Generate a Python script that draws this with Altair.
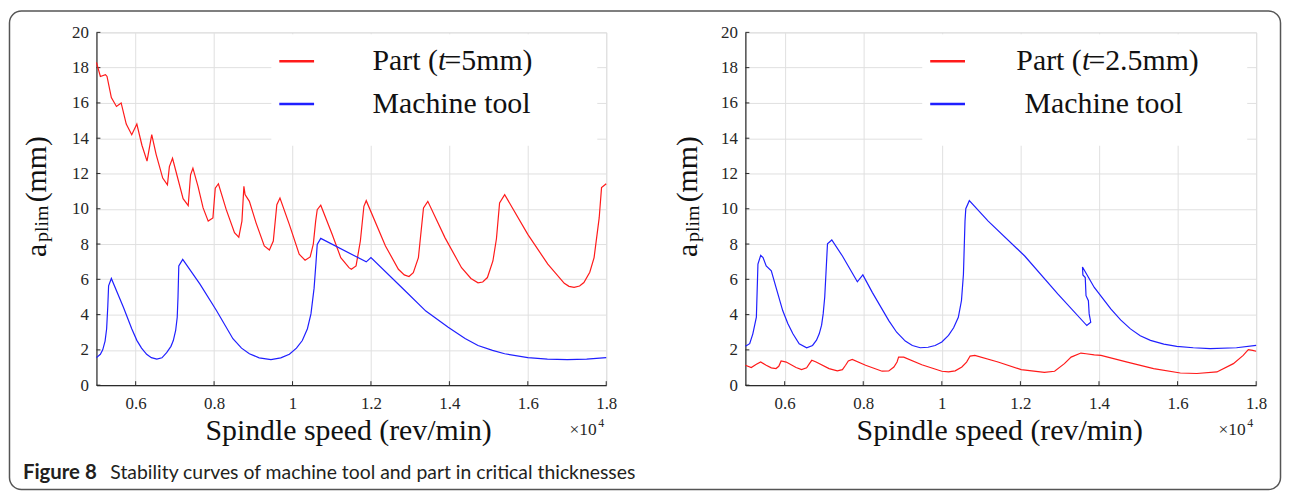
import altair as alt
import pandas as pd

# ---------------- data (spindle speed in x10^4 rev/min, a_plim in mm) ----------------
L_PART_X = [0.500, 0.510, 0.523, 0.527, 0.538, 0.551, 0.563, 0.576, 0.590, 0.603, 0.616, 0.629,
            0.641, 0.652, 0.669, 0.681, 0.686, 0.694, 0.721, 0.734, 0.740, 0.746, 0.759, 0.772,
            0.785, 0.797, 0.803, 0.811, 0.831, 0.852, 0.863, 0.871, 0.876, 0.879, 0.890, 0.907,
            0.928, 0.941, 0.951, 0.960, 0.968, 0.992, 1.017, 1.032, 1.045, 1.053, 1.059, 1.063,
            1.072, 1.101, 1.123, 1.144, 1.150, 1.162, 1.173, 1.182, 1.188, 1.237, 1.270, 1.285,
            1.297, 1.308, 1.321, 1.334, 1.345, 1.389, 1.431, 1.455, 1.473, 1.485, 1.497, 1.511,
            1.520, 1.528, 1.541, 1.600, 1.651, 1.693, 1.705, 1.718, 1.732, 1.743, 1.758, 1.769,
            1.782, 1.788, 1.800]
L_PART_Y = [18.3, 17.5, 17.6, 17.5, 16.3, 15.8, 16.0, 14.8, 14.2, 14.8, 13.6, 12.7,
            14.2, 13.1, 11.74, 11.36, 12.39, 12.86, 10.57, 10.18, 11.92, 12.3, 11.27, 10.05,
            9.3, 9.48, 11.17, 11.42, 9.95, 8.64, 8.39, 9.3, 11.27, 10.8, 10.42, 9.2,
            7.89, 7.66, 8.17, 10.23, 10.61, 9.1, 7.42, 7.08, 7.27, 8.0, 9.3, 9.95,
            10.2, 8.55, 7.23, 6.66, 6.57, 6.76, 8.17, 10.14, 10.46, 7.89, 6.57, 6.25,
            6.16, 6.38, 7.23, 10.05, 10.42, 8.35, 6.66, 6.05, 5.8, 5.85, 6.1, 7.04,
            8.3, 10.33, 10.8, 8.55, 6.86, 5.77, 5.6, 5.54, 5.62, 5.82, 6.4, 7.23,
            9.48, 11.2, 11.42]

L_TOOL_X = [0.500, 0.510, 0.516, 0.522, 0.526, 0.529, 0.531, 0.538, 0.569, 0.590, 0.603, 0.615,
            0.628, 0.640, 0.654, 0.667, 0.679, 0.690, 0.696, 0.702, 0.706, 0.708, 0.710, 0.720,
            0.764, 0.806, 0.848, 0.870, 0.890, 0.915, 0.945, 0.970, 0.992, 1.010, 1.025, 1.038,
            1.047, 1.055, 1.060, 1.063, 1.072, 1.188, 1.200, 1.287, 1.340, 1.397, 1.440, 1.473,
            1.510, 1.541, 1.600, 1.650, 1.701, 1.750, 1.800]
L_TOOL_Y = [1.56, 1.75, 2.0, 2.5, 3.2, 4.5, 5.63, 6.05, 4.4, 3.2, 2.54, 2.1,
            1.75, 1.56, 1.48, 1.55, 1.84, 2.2, 2.53, 3.1, 3.85, 5.0, 6.76, 7.13,
            5.73, 4.23, 2.63, 2.1, 1.78, 1.55, 1.45, 1.55, 1.75, 2.1, 2.53, 3.2,
            4.04, 5.5, 7.0, 7.98, 8.32, 6.99, 7.23, 5.35, 4.2, 3.28, 2.65, 2.25,
            1.97, 1.78, 1.56, 1.48, 1.45, 1.48, 1.56]

R_PART_X = [0.500, 0.515, 0.528, 0.539, 0.553, 0.566, 0.578, 0.585, 0.591, 0.604, 0.629, 0.643,
            0.656, 0.663, 0.669, 0.680, 0.713, 0.734, 0.747, 0.755, 0.762, 0.772, 0.806, 0.848,
            0.865, 0.878, 0.886, 0.890, 0.903, 0.949, 1.000, 1.017, 1.034, 1.051, 1.063, 1.072,
            1.084, 1.143, 1.202, 1.261, 1.287, 1.312, 1.329, 1.354, 1.367, 1.388, 1.405, 1.472,
            1.539, 1.607, 1.649, 1.700, 1.742, 1.767, 1.780, 1.791, 1.800]
R_PART_Y = [1.13, 1.0, 1.18, 1.31, 1.13, 0.98, 0.94, 1.07, 1.37, 1.31, 1.0, 0.88,
            0.98, 1.22, 1.41, 1.31, 0.94, 0.81, 0.88, 1.13, 1.37, 1.46, 1.13, 0.79,
            0.81, 1.03, 1.31, 1.59, 1.59, 1.16, 0.79, 0.75, 0.81, 1.03, 1.31, 1.65,
            1.69, 1.31, 0.88, 0.72, 0.79, 1.22, 1.59, 1.82, 1.78, 1.72, 1.69, 1.31,
            0.94, 0.69, 0.66, 0.75, 1.22, 1.69, 2.01, 1.97, 1.92]

R_TOOL_X = [0.500, 0.511, 0.519, 0.528, 0.532, 0.539, 0.545, 0.553, 0.566, 0.578, 0.595, 0.608,
            0.621, 0.637, 0.656, 0.671, 0.681, 0.688, 0.694, 0.698, 0.702, 0.705, 0.709, 0.720,
            0.747, 0.785, 0.799, 0.823, 0.865, 0.885, 0.907, 0.925, 0.945, 0.965, 0.983, 1.000,
            1.017, 1.030, 1.042, 1.050, 1.055, 1.059, 1.061, 1.070, 1.118, 1.211, 1.295, 1.369,
            1.379, 1.375, 1.373, 1.367, 1.365, 1.359, 1.358, 1.388, 1.430, 1.455, 1.480, 1.505,
            1.531, 1.565, 1.598, 1.640, 1.683, 1.750, 1.800]
R_TOOL_Y = [2.2, 2.35, 2.91, 3.85, 6.86, 7.36, 7.23, 6.76, 6.48, 5.54, 4.23, 3.5,
            2.91, 2.35, 2.12, 2.25, 2.55, 2.91, 3.4, 4.04, 5.0, 6.29, 8.02, 8.23,
            7.32, 5.86, 6.25, 5.26, 3.66, 3.0, 2.5, 2.25, 2.12, 2.15, 2.25, 2.45,
            2.82, 3.25, 3.85, 4.8, 6.29, 9.3, 10.0, 10.46, 9.3, 7.32, 5.17, 3.38,
            3.57, 4.04, 4.79, 5.07, 6.1, 6.25, 6.7, 5.54, 4.32, 3.7, 3.19, 2.8,
            2.54, 2.33, 2.2, 2.12, 2.07, 2.12, 2.25]

X_TICKS = [0.6, 0.8, 1.0, 1.2, 1.4, 1.6, 1.8]
Y_TICKS = [0, 2, 4, 6, 8, 10, 12, 14, 16, 18, 20]
SERIES = ["Part", "Machine tool"]
COLORS = ["#ff1a1a", "#1f1fff"]

SERIF = "Liberation Serif"
SANS = "Lato"
H = 355


def one():
    return pd.DataFrame({"k": [0]})


def txt(text, x, y, size, angle=0, align="left", font=SERIF, weight="normal",
        style="normal", color="#111111"):
    return alt.Chart(one()).mark_text(
        text=text, font=font, fontSize=size, fontWeight=weight, fontStyle=style,
        align=align, baseline="alphabetic", angle=angle, color=color
    ).encode(x=alt.value(x), y=alt.value(y))


def panel(px, py, tx, ty, width, thick, leg_x, leg_text_x, mt_x, yt_dx, xt_cx, extra):
    xsc = alt.Scale(domain=[0.5, 1.8], nice=False, zero=False)
    ysc = alt.Scale(domain=[0, 20], nice=False, zero=False)
    common = dict(title=None, grid=True, gridColor="#e0e0e0", gridWidth=1, ticks=False,
                  domain=True, domainColor="#2b2b2b", domainWidth=1.2,
                  labelFont=SERIF, labelFontSize=17, labelColor="#262626",
                  labelFlush=False, labelOverlap=False)
    xax = alt.Axis(values=X_TICKS, format=".1~f", labelPadding=10, **common)
    yax = alt.Axis(values=Y_TICKS, format="d", labelPadding=8, **common)

    df = pd.concat([
        pd.DataFrame({"x": px, "y": py, "series": SERIES[0], "i": range(len(px))}),
        pd.DataFrame({"x": tx, "y": ty, "series": SERIES[1], "i": range(len(tx))}),
    ], ignore_index=True)

    box = alt.Chart(one()).mark_rect(fill="white", stroke=None).encode(
        x=alt.value(leg_x - 8), x2=alt.value(width - 9), y=alt.value(2), y2=alt.value(114))

    yt = alt.Chart(pd.DataFrame({"y": Y_TICKS})).mark_rule(color="#2b2b2b", strokeWidth=1).encode(
        y=alt.Y("y:Q", scale=ysc, axis=yax), x=alt.value(0), x2=alt.value(4))
    xt = alt.Chart(pd.DataFrame({"x": X_TICKS})).mark_rule(color="#2b2b2b", strokeWidth=1).encode(
        x=alt.X("x:Q", scale=xsc, axis=xax), y=alt.value(H), y2=alt.value(H - 4))

    lines = alt.Chart(df).mark_line(strokeWidth=1.2).encode(
        x=alt.X("x:Q", scale=xsc, axis=xax),
        y=alt.Y("y:Q", scale=ysc, axis=yax),
        color=alt.Color("series:N", scale=alt.Scale(domain=SERIES, range=COLORS), legend=None),
        order=alt.Order("i:Q"),
    )

    leg_red = alt.Chart(one()).mark_rule(color=COLORS[0], strokeWidth=2.6).encode(
        x=alt.value(leg_x), x2=alt.value(leg_x + 35), y=alt.value(29))
    leg_blue = alt.Chart(one()).mark_rule(color=COLORS[1], strokeWidth=2.6).encode(
        x=alt.value(leg_x), x2=alt.value(leg_x + 35), y=alt.value(72))

    lt = leg_text_x
    texts = [
        txt("Part (", lt, 38, 30),
        txt("t", lt + 66, 38, 30, style="italic"),
        txt("=" + thick + "mm)", lt + 72.5, 38, 30),
        txt("Machine tool", mt_x, 81, 30),
        # y title  a_plim (mm)
        txt("a", -50.75 + yt_dx, 226, 30, angle=270),
        txt("plim", -48.25 + yt_dx, 211, 20, angle=270),
        txt("(mm)", -50.75 + yt_dx, 171, 30, angle=270),
        # x title
        txt("Spindle speed (rev/min)", xt_cx, 410, 30, align="center"),
        txt("\u00d710", 476, 405, 17.5, color="#262626"),
        txt("4", 505, 397, 12, color="#262626"),
    ]
    return alt.layer(*extra, box, yt, xt, lines, leg_red, leg_blue, *texts).properties(
        width=width, height=H)


border = alt.Chart(one()).mark_rect(
    fill="white", fillOpacity=0, stroke="#555555", strokeWidth=1.5, cornerRadius=12
).encode(x=alt.value(-87.5), x2=alt.value(1191.5), y=alt.value(-21.5), y2=alt.value(460))

caption = [
    txt("Figure 8", -74, 449, 20.5, font=SANS, weight="bold", color="#231f20"),
    txt("Stability curves of machine tool and part in critical thicknesses", 14, 449, 19.5,
        font=SANS, color="#231f20"),
]

left = panel(L_PART_X, L_PART_Y, L_TOOL_X, L_TOOL_Y, 513, "5",
             leg_x=184, leg_text_x=277.75, mt_x=277.75, yt_dx=0, xt_cx=253.75,
             extra=[border] + caption)
right = panel(R_PART_X, R_PART_Y, R_TOOL_X, R_TOOL_Y, 514, "2.5",
              leg_x=186, leg_text_x=272.7, mt_x=281, yt_dx=2, xt_cx=256, extra=[])

chart = alt.hconcat(left, right, spacing=140, bounds="flush", padding=0).configure_view(
    stroke=None).configure_axis(
    labelFont=SERIF, labelFontSize=17, labelColor="#262626").configure(background="white")

chart.save("out.html", embed_options={"renderer": "svg", "actions": False})
